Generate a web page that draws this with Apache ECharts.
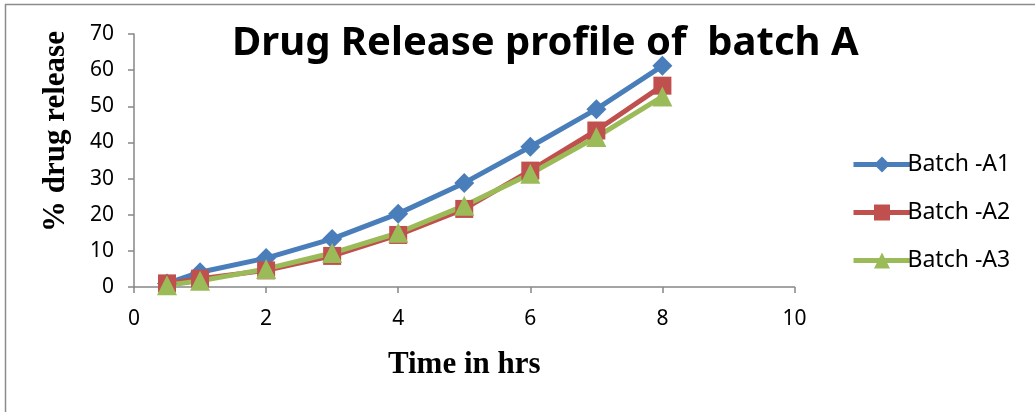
<!DOCTYPE html>
<html>
<head>
<meta charset="utf-8">
<script src="https://cdn.jsdelivr.net/npm/echarts@6/dist/echarts.min.js"></script>
<style>
  html, body { margin: 0; padding: 0; background: #fff; }
  #chart { width: 1035px; height: 412px; }
</style>
</head>
<body>
<div id="chart"></div>
<script>
// Sampling times (hrs) and cumulative % drug release per batch
const timeHrs = [0.5, 1, 2, 3, 4, 5, 6, 7, 8];
const batchA1 = [1.0, 4.1, 8.0, 13.3, 20.3, 28.8, 38.8, 49.2, 61.2];
const batchA2 = [1.0, 2.3, 4.6, 8.6, 14.4, 21.6, 32.2, 43.3, 55.7];
const batchA3 = [0.5, 1.7, 5.0, 9.4, 15.0, 22.5, 31.3, 41.5, 52.7];
const seriesNames = ['Batch -A1', 'Batch -A2', 'Batch -A3'];

const pairs = (xs, ys) => xs.map((x, i) => [x, ys[i]]);

const labelFont = '"Noto Sans", "Liberation Sans", sans-serif';
const serifFont = '"Liberation Serif", "DejaVu Serif", serif';
const axisGrey = '#868686';

function lineSeries(name, values, color, symbol, size) {
  return {
    name: name,
    type: 'line',
    data: pairs(timeHrs, values),
    symbol: symbol,
    symbolSize: size,
    showAllSymbol: true,
    lineStyle: { width: 5, color: color },
    itemStyle: { color: color },
    emphasis: { disabled: true },
    animation: false
  };
}

const chart = echarts.init(document.getElementById('chart'), null, { renderer: 'canvas' });
chart.setOption({
  backgroundColor: '#fff',
  animation: false,
  title: {
    text: 'Drug Release profile of  batch A',
    left: 227,
    top: 19,
    textStyle: { fontFamily: labelFont, fontWeight: 'bold', fontSize: 40, color: '#000' }
  },
  grid: { left: 134, right: 240.5, top: 34, bottom: 125, containLabel: false },
  legend: {
    orient: 'vertical',
    left: 846,
    top: 148,
    itemWidth: 57,
    itemHeight: 20,
    itemGap: 25,
    data: seriesNames,
    lineStyle: { width: 5 },
    textStyle: { fontFamily: labelFont, fontSize: 23, color: '#000', padding: [0, 0, 0, -8] }
  },
  xAxis: {
    type: 'value',
    min: 0,
    max: 10,
    interval: 2,
    name: 'Time in hrs',
    nameLocation: 'middle',
    nameGap: 62,
    nameTextStyle: { fontFamily: serifFont, fontWeight: 'bold', fontSize: 31, color: '#000' },
    axisLine: { show: true, onZero: false, lineStyle: { color: axisGrey, width: 1.5 } },
    axisTick: { show: true, length: 6, lineStyle: { color: axisGrey, width: 1.5 } },
    axisLabel: { fontFamily: labelFont, fontSize: 21, color: '#000', margin: 22 },
    splitLine: { show: false }
  },
  yAxis: {
    type: 'value',
    min: 0,
    max: 70,
    interval: 10,
    name: '% drug release',
    nameLocation: 'middle',
    nameRotate: 90,
    nameGap: 63,
    nameTextStyle: { fontFamily: serifFont, fontWeight: 'bold', fontSize: 31, color: '#000', padding: [0, 0, 0, 58] },
    axisLine: { show: true, lineStyle: { color: axisGrey, width: 1.5 } },
    axisTick: { show: true, length: 6, lineStyle: { color: axisGrey, width: 1.5 } },
    axisLabel: { fontFamily: labelFont, fontSize: 21, color: '#000', margin: 20 },
    splitLine: { show: false }
  },
  series: [
    lineSeries(seriesNames[0], batchA1, '#4A7EBB', 'diamond', 20),
    lineSeries(seriesNames[1], batchA2, '#C0504D', 'rect', 18),
    lineSeries(seriesNames[2], batchA3, '#9BBB59', 'triangle', 20)
  ],
  graphic: [
    { type: 'line', shape: { x1: 5, y1: 4.5, x2: 1035, y2: 4.5 }, style: { stroke: '#8c8c8c', lineWidth: 1.5 } },
    { type: 'line', shape: { x1: 5.5, y1: 4, x2: 5.5, y2: 412 }, style: { stroke: '#8c8c8c', lineWidth: 1.5 } }
  ]
});
</script>
</body>
</html>
